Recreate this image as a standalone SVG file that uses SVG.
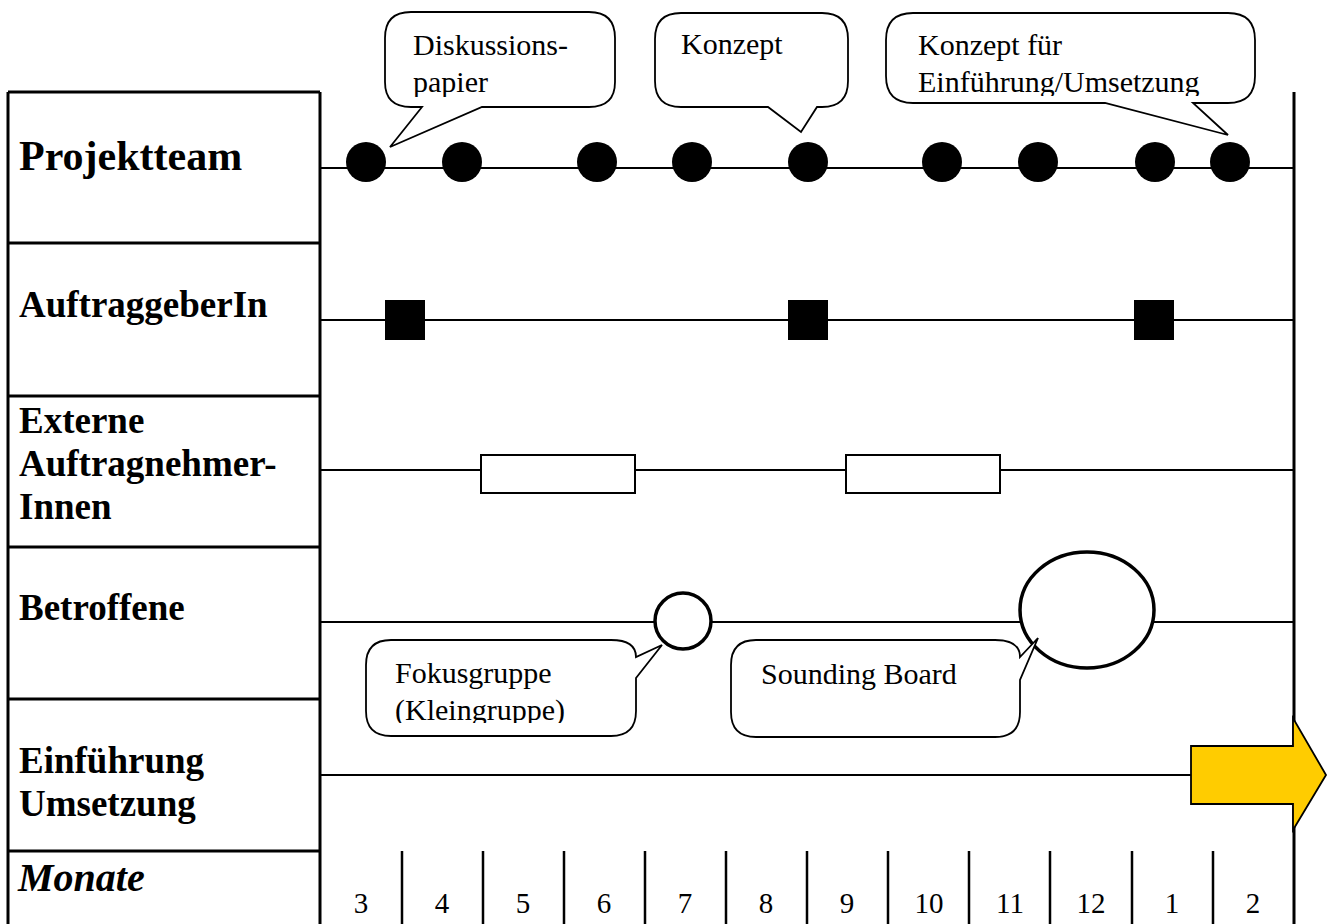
<svg xmlns="http://www.w3.org/2000/svg" width="1329" height="924" viewBox="0 0 1329 924">
  <style>
    .grid { stroke: #000; stroke-width: 3; fill: none; }
    .track { stroke: #000; stroke-width: 2.2; fill: none; }
    .tick { stroke: #000; stroke-width: 2.5; }
    .dot { fill: #000; }
    .box { fill: #fff; stroke: #000; stroke-width: 2; }
    .ring { fill: #fff; stroke: #000; stroke-width: 3.5; }
    .call { fill: #fff; stroke: #000; stroke-width: 1.8; stroke-linejoin: miter; }
    .lbl { font-family: "Liberation Serif", "Times New Roman", serif; font-weight: bold; font-size: 37px; fill: #000; }
    .big { font-size: 42px; }
    .ital { font-style: italic; font-size: 40px; }
    .txt { font-family: "Liberation Serif", "Times New Roman", serif; font-size: 30px; fill: #000; }
    .num { font-family: "Liberation Serif", "Times New Roman", serif; font-size: 29px; fill: #000; text-anchor: middle; }
    .arrow { fill: #ffcc00; stroke: #000; stroke-width: 1.8; }
  </style>
  <defs>
    <clipPath id="clipDisk"><rect x="385" y="12" width="230" height="85"/></clipPath>
    <clipPath id="clipUms"><rect x="886" y="13" width="369" height="83"/></clipPath>
    <clipPath id="clipFokus"><rect x="366" y="640" width="270" height="83"/></clipPath>
  </defs>
  <rect width="1329" height="924" fill="#fff"/>

  <!-- row header table -->
  <g id="table">
    <path class="grid" d="M8,92 H320 M8,243 H320 M8,396 H320 M8,547 H320 M8,699 H320 M8,851 H320 M8,92 V924 M320,92 V924"/>
    <path class="grid" d="M1294,92 V924"/>
    <text class="lbl big" x="19" y="170">Projektteam</text>
    <text class="lbl" x="19" y="317">AuftraggeberIn</text>
    <text class="lbl" x="19" y="433">Externe</text>
    <text class="lbl" x="19" y="476">Auftragnehmer-</text>
    <text class="lbl" x="19" y="519">Innen</text>
    <text class="lbl" x="19" y="620">Betroffene</text>
    <text class="lbl" x="19" y="773">Einführung</text>
    <text class="lbl" x="19" y="816">Umsetzung</text>
    <text class="lbl ital" x="18" y="891">Monate</text>
  </g>

  <!-- timeline tracks -->
  <g id="connectors">
    <path class="track" d="M320,168 H1294 M320,320 H1294 M320,470 H1294 M320,622 H1294 M320,775 H1191"/>
  </g>

  <!-- month scale -->
  <g id="months">
    <path class="tick" d="M402,851 V924 M483,851 V924 M564,851 V924 M645,851 V924 M726,851 V924 M807,851 V924 M888,851 V924 M969,851 V924 M1050,851 V924 M1132,851 V924 M1213,851 V924"/>
    <text class="num" x="361" y="913">3</text>
    <text class="num" x="442" y="913">4</text>
    <text class="num" x="523" y="913">5</text>
    <text class="num" x="604" y="913">6</text>
    <text class="num" x="685" y="913">7</text>
    <text class="num" x="766" y="913">8</text>
    <text class="num" x="847" y="913">9</text>
    <text class="num" x="929" y="913">10</text>
    <text class="num" x="1010" y="913">11</text>
    <text class="num" x="1091" y="913">12</text>
    <text class="num" x="1172" y="913">1</text>
    <text class="num" x="1253" y="913">2</text>
  </g>

  <!-- project team meetings -->
  <g id="projektteam-meetings">
    <circle class="dot" cx="366" cy="162" r="20"/>
    <circle class="dot" cx="462" cy="162" r="20"/>
    <circle class="dot" cx="597" cy="162" r="20"/>
    <circle class="dot" cx="692" cy="162" r="20"/>
    <circle class="dot" cx="808" cy="162" r="20"/>
    <circle class="dot" cx="942" cy="162" r="20"/>
    <circle class="dot" cx="1038" cy="162" r="20"/>
    <circle class="dot" cx="1155" cy="162" r="20"/>
    <circle class="dot" cx="1230" cy="162" r="20"/>
  </g>

  <!-- client milestones -->
  <g id="auftraggeber-milestones">
    <rect class="dot" x="385" y="300" width="40" height="40"/>
    <rect class="dot" x="788" y="300" width="40" height="40"/>
    <rect class="dot" x="1134" y="300" width="40" height="40"/>
  </g>

  <!-- contractor work packages -->
  <g id="extern-phases">
    <rect class="box" x="481" y="455" width="154" height="38"/>
    <rect class="box" x="846" y="455" width="154" height="38"/>
  </g>

  <!-- stakeholder events -->
  <g id="betroffene-events">
    <circle class="ring" cx="683" cy="621" r="28"/>
    <ellipse class="ring" cx="1087" cy="610" rx="67" ry="58"/>
  </g>

  <!-- rollout arrow -->
  <g id="umsetzung-arrow">
    <path class="arrow" d="M1191,746 H1293 V718 L1326,775 L1293,830 V804 H1191 Z"/>
  </g>

  <!-- callouts -->
  <g id="callout-diskussionspapier">
    <path class="call" d="M411,12 H589 Q615,12 615,38 V82 Q615,107 589,107 H482 L390,147 L422,107 H411 Q385,107 385,82 V38 Q385,12 411,12 Z"/>
    <g clip-path="url(#clipDisk)">
      <text class="txt" x="413" y="55">Diskussions-</text>
      <text class="txt" x="413" y="92">papier</text>
    </g>
  </g>
  <g id="callout-konzept">
    <path class="call" d="M681,13 H822 Q848,13 848,39 V81 Q848,107 822,107 H817 L801,132 L768,107 H681 Q655,107 655,81 V39 Q655,13 681,13 Z"/>
    <text class="txt" x="681" y="54">Konzept</text>
  </g>
  <g id="callout-umsetzungskonzept">
    <path class="call" d="M913,13 H1228 Q1255,13 1255,40 V76 Q1255,103 1228,103 H1193 L1228,135 L1105,103 H913 Q886,103 886,76 V40 Q886,13 913,13 Z"/>
    <g clip-path="url(#clipUms)">
      <text class="txt" x="918" y="55">Konzept für</text>
      <text class="txt" x="918" y="92">Einführung/Umsetzung</text>
    </g>
  </g>
  <g id="callout-fokusgruppe">
    <path class="call" d="M391,640 H611 Q636,640 636,657 L662,645 L636,678 V711 Q636,736 611,736 H391 Q366,736 366,711 V665 Q366,640 391,640 Z"/>
    <g clip-path="url(#clipFokus)">
      <text class="txt" x="395" y="683">Fokusgruppe</text>
      <text class="txt" x="395" y="720">(Kleingruppe)</text>
    </g>
  </g>
  <g id="callout-sounding-board">
    <path class="call" d="M756,640 H995 Q1020,640 1020,657 L1038,638 L1020,680 V712 Q1020,737 995,737 H756 Q731,737 731,712 V665 Q731,640 756,640 Z"/>
    <text class="txt" x="761" y="684">Sounding Board</text>
  </g>
</svg>
